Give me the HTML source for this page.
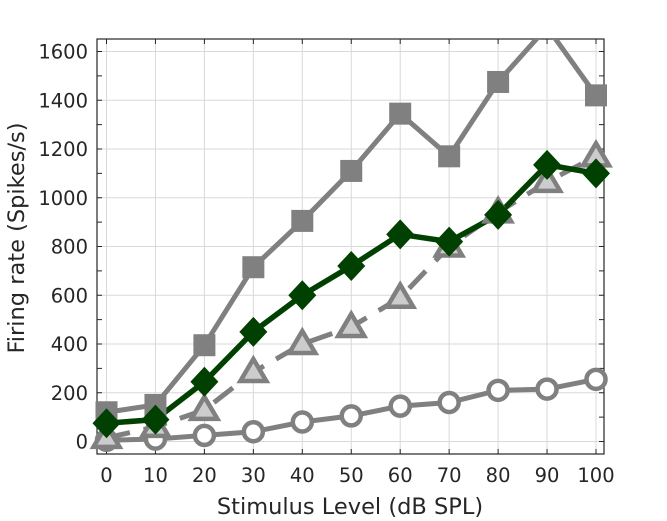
<!DOCTYPE html>
<html><head><meta charset="utf-8"><style>body{margin:0;background:#fff}svg{display:block}text{font-family:"DejaVu Sans","Liberation Sans",sans-serif;fill:#262626}</style></head>
<body>
<svg width="667" height="521" xmlns="http://www.w3.org/2000/svg">
<defs><clipPath id="c"><rect x="97" y="39" width="507" height="415"/></clipPath></defs>
<script>
const X=v=>106.5+v*4.895, Y=v=>441.5-v*0.24375;
const ns="http://www.w3.org/2000/svg";
const svg=document.querySelector('svg');
function el(t,a,p){const e=document.createElementNS(ns,t);for(const k in a)e.setAttribute(k,a[k]);(p||svg).appendChild(e);return e;}
for(let i=0;i<=100;i+=10)el('line',{x1:X(i),x2:X(i),y1:39,y2:454,stroke:'#d8d8d8','stroke-width':1});
for(let v=0;v<=1600;v+=200)el('line',{x1:97,x2:604,y1:Y(v),y2:Y(v),stroke:'#d8d8d8','stroke-width':1});
for(let i=0;i<=100;i+=10){el('line',{x1:X(i),x2:X(i),y1:454,y2:449,stroke:'#262626'});el('line',{x1:X(i),x2:X(i),y1:39,y2:44,stroke:'#262626'});
 const t=el('text',{x:X(i),y:482,'font-size':19.5,'text-anchor':'middle'});t.textContent=i;}
for(let v=0;v<=1600;v+=100){el('line',{x1:97,x2:102,y1:Y(v),y2:Y(v),stroke:'#262626'});el('line',{x1:604,x2:599,y1:Y(v),y2:Y(v),stroke:'#262626'});
 if(v%200==0){const t=el('text',{x:88,y:Y(v)+7,'font-size':19.5,'text-anchor':'end'});t.textContent=v;}}
el('rect',{x:97,y:39,width:507,height:415,fill:'none',stroke:'#262626','stroke-width':1.2});
const xs=[0,10,20,30,40,50,60,70,80,90,100];
const S=[120,150,395,715,905,1110,1345,1170,1475,1700,1420];
const D=[75,90,245,450,600,720,850,820,930,1135,1100];
const T=[15,60,130,285,400,470,590,800,940,1065,1170];
const C=[5,10,25,40,80,105,145,160,210,215,255];
const pts=a=>a.map((v,i)=>X(xs[i])+','+Y(v)).join(' ');
const cg=el('g',{'clip-path':'url(#c)'});
el('polyline',{points:pts(C),fill:'none',stroke:'#808080','stroke-width':5},cg);
C.forEach((v,i)=>el('circle',{cx:X(xs[i]),cy:Y(v),r:9.5,fill:'#fff',stroke:'#808080','stroke-width':4.5}));
el('polyline',{points:pts(T),fill:'none',stroke:'#808080','stroke-width':5,'stroke-dasharray':'24 14'},cg);
T.forEach((v,i)=>{const x=X(xs[i]),y=Y(v);el('polygon',{points:`${x},${y-13} ${x-13},${y+9} ${x+13},${y+9}`,fill:'#cccccc',stroke:'#808080','stroke-width':4.5});});
el('polyline',{points:pts(S),fill:'none',stroke:'#808080','stroke-width':5},cg);
S.forEach((v,i)=>{if(v>1640)return;el('rect',{x:X(xs[i])-11,y:Y(v)-11,width:22,height:22,fill:'#808080'});});
el('polyline',{points:pts(D),fill:'none',stroke:'#004000','stroke-width':5.5},cg);
D.forEach((v,i)=>{const x=X(xs[i]),y=Y(v);el('polygon',{points:`${x},${y-15} ${x+14},${y} ${x},${y+15} ${x-14},${y}`,fill:'#004000'});});
let t=el('text',{x:350,y:514,'font-size':22.5,'text-anchor':'middle'});t.textContent='Stimulus Level (dB SPL)';
t=el('text',{x:0,y:0,'font-size':22.5,'text-anchor':'middle',transform:'translate(24,238) rotate(-90)'});t.textContent='Firing rate (Spikes/s)';
</script>
</svg>
</body></html>
